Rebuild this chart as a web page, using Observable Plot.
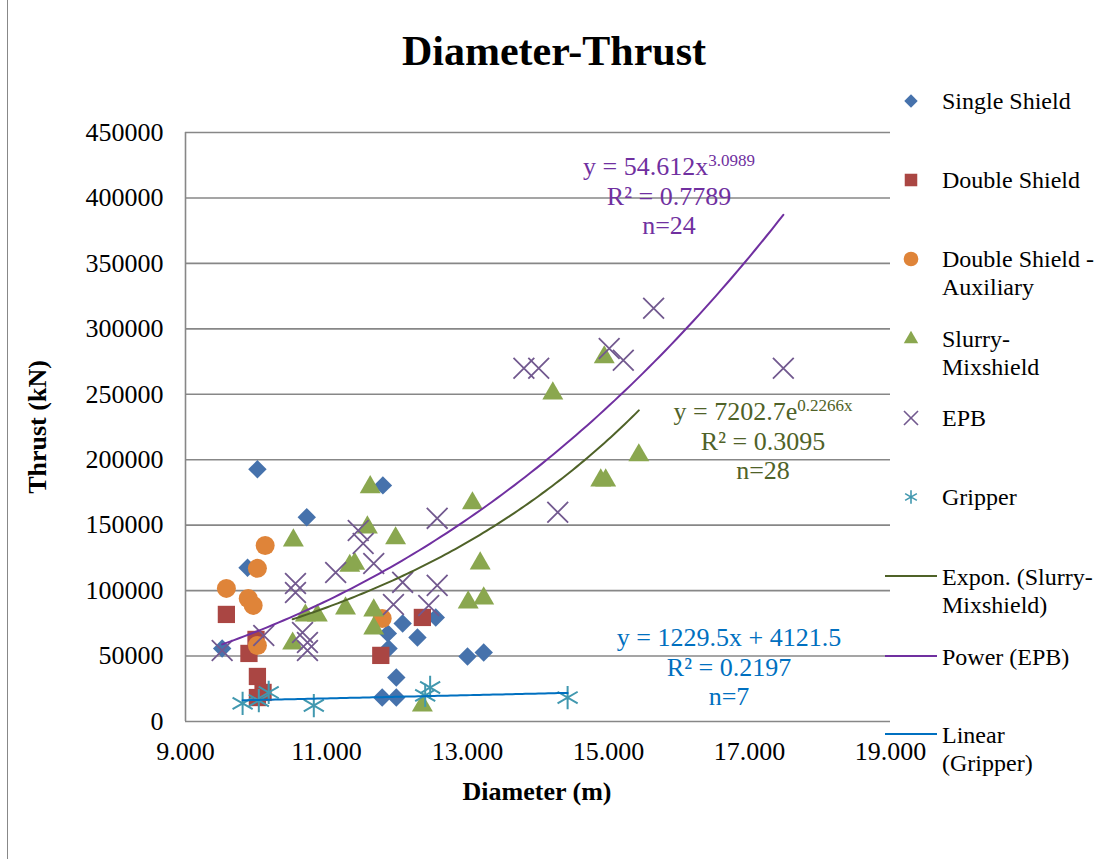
<!DOCTYPE html>
<html>
<head>
<meta charset="utf-8">
<script src="https://cdn.jsdelivr.net/npm/d3@7"></script>
<script src="https://cdn.jsdelivr.net/npm/@observablehq/plot@0.6"></script>
<style>
  html, body { margin: 0; padding: 0; background: #fff; }
  #wrap { position: relative; width: 1099px; height: 859px; background: #fff; font-family: "Liberation Serif", "Times New Roman", serif; overflow: hidden; }
  #wrap > svg { position: absolute; left: 0; top: 0; }
  .ov { position: absolute; white-space: nowrap; line-height: 1; }
  .ann { position: absolute; text-align: center; font-size: 26px; line-height: 29.5px; white-space: nowrap; transform: translateX(-50%); }
  .ann sup { font-size: 17px; vertical-align: 9px; line-height: 0; }
</style>
</head>
<body>
<div id="wrap"></div>
<script>
// ---------- data ----------
const seriesNames = ["Single Shield", "Double Shield", "Double Shield - Auxiliary", "Slurry-Mixshield", "EPB", "Gripper"];

const singleShieldDiameter = [9.52, 10.02, 9.88, 10.72, 11.80, 12.08, 12.29, 11.87, 11.88, 12.55, 13.00, 13.23, 11.99, 11.79, 11.99];
const singleShieldThrust   = [55800, 192700, 117500, 156000, 180400, 74900, 64200, 67300, 55800, 79500, 49700, 52700, 33600, 18300, 18300];

const doubleShieldDiameter = [9.58, 10.00, 9.90, 10.02, 10.10, 10.02, 12.36, 11.77];
const doubleShieldThrust   = [81800, 62700, 52000, 34400, 22200, 18300, 79500, 50500];

const auxiliaryDiameter = [9.58, 9.89, 9.96, 10.02, 10.02, 10.13, 11.79];
const auxiliaryThrust   = [101700, 94000, 88700, 58100, 117000, 134500, 78700];

const slurryDiameter = [10.53, 10.70, 10.87, 10.52, 11.27, 11.33, 11.40, 11.62, 11.58, 11.98, 13.07, 13.18, 11.67, 11.67, 13.01, 13.23, 12.36, 14.94, 14.21, 15.43, 14.89, 14.96];
const slurryThrust   = [138400, 81000, 81000, 59600, 86400, 119000, 120500, 179000, 148300, 140000, 166700, 120800, 84900, 71100, 91000, 94000, 12200, 278300, 250700, 203400, 184200, 184200];

const epbDiameter = [9.52, 10.11, 10.56, 10.56, 10.66, 10.73, 10.73, 11.13, 11.45, 11.52, 11.67, 11.95, 12.08, 12.45, 12.57, 12.57, 13.80, 14.01, 14.28, 15.01, 15.21, 15.64, 17.48];
const epbThrust   = [54300, 65700, 105500, 98600, 68000, 60400, 54300, 113900, 146000, 136000, 120700, 89400, 106300, 88700, 155200, 104000, 269900, 269900, 159800, 285000, 276000, 315700, 269900];

const gripperDiameter = [9.81, 10.04, 10.18, 10.82, 12.40, 12.47, 14.42];
const gripperThrust   = [13800, 16000, 22200, 12200, 20000, 26000, 18300];

// trendline coefficients as printed on the chart
const powerEPB = {a: 54.612, b: 3.0989, r2: "0.7789", n: 24};
const exponSlurry = {a: 7202.7, b: 0.2266, r2: "0.3095", n: 28};
const linearGripper = {m: 1229.5, c: 4121.5, r2: "0.2197", n: 7};

const xTicks = [9, 11, 13, 15, 17, 19];
const yTicks = [0, 50000, 100000, 150000, 200000, 250000, 300000, 350000, 400000, 450000];

// ---------- colours ----------
const colSingle = "#4672AC", colDouble = "#AA4643", colAux = "#DF8439", colSlurry = "#8AA74F",
      colEPB = "#72598F", colGrip = "#4198AF";
const colPower = "#7030A0", colExpon = "#4F6228", colLinear = "#0070C0";

const zip = (xs, ys) => xs.map((x, i) => ({x, y: ys[i]}));
const single = zip(singleShieldDiameter, singleShieldThrust);
const dbl = zip(doubleShieldDiameter, doubleShieldThrust);
const aux = zip(auxiliaryDiameter, auxiliaryThrust);
const slurry = zip(slurryDiameter, slurryThrust);
const epb = zip(epbDiameter, epbThrust);
const grip = zip(gripperDiameter, gripperThrust);

function curve(xs, f) {
  const [lo, hi] = d3.extent(xs);
  return d3.range(0, 101).map(i => { const x = lo + (hi - lo) * i / 100; return {x, y: f(x)}; });
}
const powerLine = curve(epbDiameter, x => powerEPB.a * Math.pow(x, powerEPB.b));
const exponLine = curve(slurryDiameter, x => exponSlurry.a * Math.exp(exponSlurry.b * x));
const linearLine = curve(gripperDiameter, x => linearGripper.m * x + linearGripper.c);

const chart = Plot.plot({
  width: 1099,
  height: 859,
  marginLeft: 185,
  marginRight: 209,
  marginTop: 132,
  marginBottom: 138,
  style: {background: "transparent", fontFamily: "'Liberation Serif', 'Times New Roman', serif", fontSize: "26px", color: "#000", overflow: "visible"},
  x: {domain: [9, 19], ticks: xTicks, tickFormat: d3.format(".3f"), tickSize: 0, tickPadding: 20, label: null},
  y: {domain: [0, 450000], ticks: yTicks, tickFormat: d => String(d), tickSize: 0, tickPadding: 22, label: null},
  marks: [
    Plot.ruleY(yTicks, {stroke: "#878787", strokeWidth: 1.6}),
    Plot.ruleX([9], {stroke: "#878787", strokeWidth: 1.6}),
    Plot.dot(single, {x: "x", y: "y", symbol: "diamond2", fill: colSingle, r: 8.3}),
    Plot.dot(dbl, {x: "x", y: "y", symbol: "square2", fill: colDouble, r: 11}),
    Plot.dot(aux, {x: "x", y: "y", symbol: "circle", fill: colAux, r: 9.5}),
    Plot.dot(slurry, {x: "x", y: "y", symbol: "triangle2", fill: colSlurry, r: 10}),
    Plot.dot(epb, {x: "x", y: "y", symbol: "times", stroke: colEPB, strokeWidth: 1.8, r: 9.5}),
    Plot.dot(grip, {x: "x", y: "y", symbol: "asterisk", stroke: colGrip, strokeWidth: 2, r: 11}),
    Plot.line(exponLine, {x: "x", y: "y", stroke: colExpon, strokeWidth: 2}),
    Plot.line(powerLine, {x: "x", y: "y", stroke: colPower, strokeWidth: 2}),
    Plot.line(linearLine, {x: "x", y: "y", stroke: colLinear, strokeWidth: 2})
  ]
});
const wrap = document.getElementById("wrap");
wrap.appendChild(chart);

function addDiv(cls, html, css) {
  const d = document.createElement("div");
  d.className = cls;
  d.innerHTML = html;
  Object.assign(d.style, css);
  wrap.appendChild(d);
  return d;
}

// title and axis titles
addDiv("ov", "Diameter-Thrust", {left: "554px", top: "30px", transform: "translateX(-50%)", fontSize: "42px", fontWeight: "bold"});
addDiv("ov", "Diameter (m)", {left: "537px", top: "779px", transform: "translateX(-50%)", fontSize: "26px", fontWeight: "bold"});
addDiv("ov", "Thrust (kN)", {left: "38px", top: "427px", transform: "translate(-50%,-50%) rotate(-90deg)", fontSize: "26px", fontWeight: "bold"});

// trendline annotations
addDiv("ann", `y = ${powerEPB.a}x<sup>${powerEPB.b}</sup><br>R² = ${powerEPB.r2}<br>n=${powerEPB.n}`, {left: "669px", top: "152px", color: colPower});
addDiv("ann", `y = ${exponSlurry.a}e<sup>${exponSlurry.b}x</sup><br>R² = ${exponSlurry.r2}<br>n=${exponSlurry.n}`, {left: "763px", top: "397px", color: colExpon});
addDiv("ann", `y = ${linearGripper.m}x + ${linearGripper.c}<br>R² = ${linearGripper.r2}<br>n=${linearGripper.n}`, {left: "729px", top: "623px", color: colLinear});

// legend
const leg = d3.select(wrap).append("svg")
  .attr("width", 1099).attr("height", 859)
  .style("position", "absolute").style("left", 0).style("top", 0).style("pointer-events", "none");
const legendItems = [
  {lines: ["Single Shield"], y: 101, kind: "sym", sym: d3.symbolDiamond2, size: 115, fill: colSingle},
  {lines: ["Double Shield"], y: 180, kind: "sym", sym: d3.symbolSquare2, size: 200, fill: colDouble},
  {lines: ["Double Shield -", "Auxiliary"], y: 259, kind: "sym", sym: d3.symbolCircle, size: 170, fill: colAux},
  {lines: ["Slurry-", "Mixshield"], y: 339, kind: "sym", sym: d3.symbolTriangle2, size: 150, fill: colSlurry},
  {lines: ["EPB"], y: 418, kind: "sym", sym: d3.symbolTimes, size: 130, stroke: colEPB},
  {lines: ["Gripper"], y: 497, kind: "sym", sym: d3.symbolAsterisk, size: 130, stroke: colGrip},
  {lines: ["Expon. (Slurry-", "Mixshield)"], y: 577, kind: "line", stroke: colExpon},
  {lines: ["Power (EPB)"], y: 657, kind: "line", stroke: colPower},
  {lines: ["Linear", "(Gripper)"], y: 735, kind: "line", stroke: colLinear}
];
legendItems.forEach(it => {
  if (it.kind === "sym") {
    leg.append("path")
      .attr("transform", `translate(911,${it.y})`)
      .attr("d", d3.symbol(it.sym, it.size)())
      .attr("fill", it.fill || "none")
      .attr("stroke", it.stroke || "none")
      .attr("stroke-width", it.stroke ? 1.6 : 0);
  } else {
    leg.append("line").attr("x1", 885).attr("x2", 937).attr("y1", it.y - 1).attr("y2", it.y - 1)
      .attr("stroke", it.stroke).attr("stroke-width", 2);
  }
  const t = leg.append("text")
    .attr("x", 942)
    .attr("font-family", "'Liberation Serif', 'Times New Roman', serif")
    .attr("font-size", 24)
    .attr("fill", "#000");
  it.lines.forEach((ln, i) => {
    t.append("tspan").attr("x", 942).attr("y", it.y + 8 + i * 28).text(ln);
  });
});

// outer chart border (left edge visible in the reference)
leg.append("rect").attr("x", 7.5).attr("y", -2).attr("width", 1200).attr("height", 880)
  .attr("fill", "none").attr("stroke", "#888").attr("stroke-width", 1);
</script>
</body>
</html>
